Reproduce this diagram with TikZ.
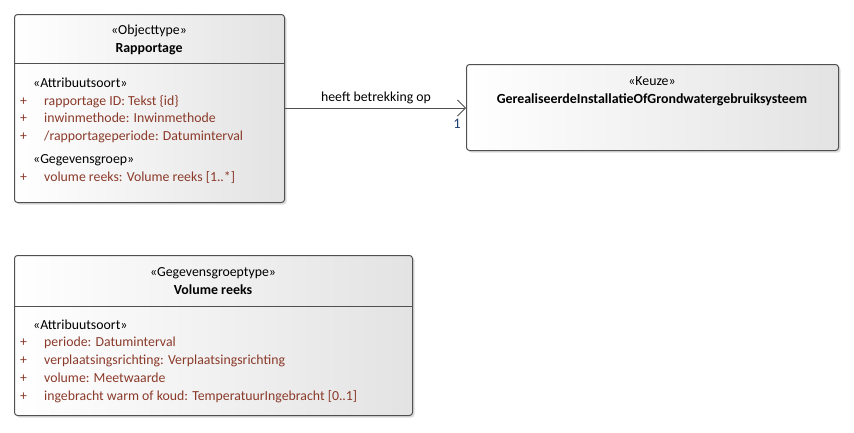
\documentclass[tikz,border=0pt]{standalone}
\usepackage{fontspec}
\setmainfont{Carlito}
\usetikzlibrary{shadows,arrows.meta}
\definecolor{attrc}{HTML}{8B3A2A}
\definecolor{edgec}{HTML}{505050}
\definecolor{multc}{HTML}{1F3F6F}
\tikzset{
  umlbox/.style={draw=edgec, line width=1pt, rounded corners=3pt, left color=white, right color=black!11,
    drop shadow={shadow xshift=2pt, shadow yshift=-2pt, fill=black!30, opacity=0.45},
    anchor=north west, inner sep=0pt},
  txt/.style={font=\fontsize{13.8}{16}\selectfont, inner sep=0pt, anchor=base},
  nametxt/.style={txt, font=\fontsize{13.9}{16}\selectfont\bfseries},
  stereo/.style={txt, anchor=base west},
  attrtxt/.style={txt, text=attrc, anchor=base west},
  divider/.style={draw=edgec, line width=0.8pt},
  assoc/.style={draw=edgec, line width=0.8pt, -{Straight Barb[length=8pt, width=16pt, line width=0.8pt]}},
}
\begin{document}
\begin{tikzpicture}[x=1pt,y=1pt]
\useasboundingbox (0,0) rectangle (854,-432);

% Rapportage
\node[umlbox, minimum width=270pt, minimum height=188pt] (rap) at (14,-14) {};
\node[txt] (rapst) at (149,-34) {«Objecttype»};
\node[nametxt] (rapnm) at (149,-52) {Rapportage};
\draw[divider] (14,-63) coordinate (rapdl) -- (284,-63) coordinate (rapdr);
\node[stereo] (rapa) at (33,-87) {«Attribuutsoort»};
\node[attrtxt] (rapp1) at (20,-105) {+};
\node[attrtxt] (rapt1) at (44,-105) {rapportage ID: Tekst \{id\}};
\node[attrtxt] (rapp2) at (20,-122) {+};
\node[attrtxt] (rapt2) at (44,-122) {inwinmethode: Inwinmethode};
\node[attrtxt] (rapp3) at (20,-140) {+};
\node[attrtxt] (rapt3) at (44,-140) {/rapportageperiode: Datuminterval};
\node[stereo] (rapg) at (33,-163) {«Gegevensgroep»};
\node[attrtxt] (rapp4) at (20,-181) {+};
\node[attrtxt] (rapt4) at (44,-181) {volume reeks: Volume reeks [1..*]};

% Keuze
\node[umlbox, minimum width=372pt, minimum height=86pt] (keuze) at (466,-64) {};
\node[txt] (keust) at (652,-85) {«Keuze»};
\node[nametxt] (keunm) at (652,-103) {GerealiseerdeInstallatieOfGrondwatergebruiksysteem};

% Volume reeks
\node[umlbox, minimum width=398pt, minimum height=160pt] (vol) at (14,-255) {};
\node[txt] (volst) at (213,-276) {«Gegevensgroeptype»};
\node[nametxt] (volnm) at (213,-294) {Volume reeks};
\draw[divider] (14,-306) coordinate (voldl) -- (412,-306) coordinate (voldr);
\node[stereo] (vola) at (33,-329) {«Attribuutsoort»};
\node[attrtxt] (volp1) at (20,-346) {+};
\node[attrtxt] (volt1) at (44,-346) {periode: Datuminterval};
\node[attrtxt] (volp2) at (20,-364) {+};
\node[attrtxt] (volt2) at (44,-364) {verplaatsingsrichting: Verplaatsingsrichting};
\node[attrtxt] (volp3) at (20,-382) {+};
\node[attrtxt] (volt3) at (44,-382) {volume: Meetwaarde};
\node[attrtxt] (volp4) at (20,-400) {+};
\node[attrtxt] (volt4) at (44,-400) {ingebracht warm of koud: TemperatuurIngebracht [0..1]};

% association
\coordinate (assocs) at (rap.east |- 0,-108);
\coordinate (assoce) at (keuze.west |- 0,-108);
\draw[assoc] (assocs) -- (assoce);
\node[txt] (assoclbl) at (376,-101) {heeft betrekking op};
\node[txt, text=multc, font=\fontsize{14.5}{16}\selectfont] (mult) at (457,-128) {1};
\end{tikzpicture}
\end{document}
